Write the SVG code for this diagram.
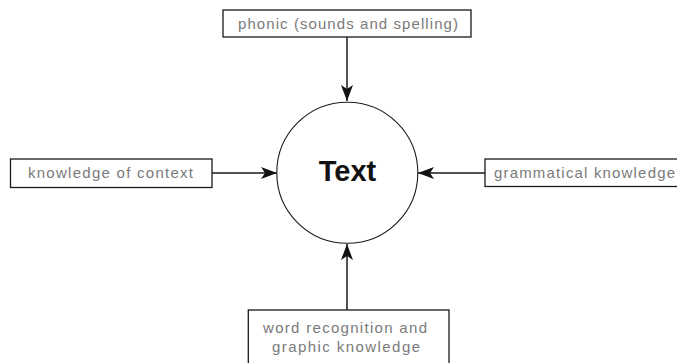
<svg xmlns="http://www.w3.org/2000/svg" width="677" height="363" viewBox="0 0 677 363">
  <style>
    .box { fill: #ffffff; stroke: #1a1a1a; stroke-width: 1.3; }
    .lbl { font-family: "Liberation Sans", Arial, sans-serif; font-size: 15px; fill: #7a7a7a; }
    .conn { stroke: #1a1a1a; stroke-width: 1.5; fill: none; marker-end: url(#arrow); }
    .hub { fill: #ffffff; stroke: #1a1a1a; stroke-width: 1.1; }
    .hubtxt { font-family: "Liberation Sans", Arial, sans-serif; font-size: 29px; font-weight: bold; fill: #111111; }
  </style>
  <defs>
    <marker id="arrow" markerUnits="userSpaceOnUse" markerWidth="17" markerHeight="13" refX="16" refY="6.5" orient="auto">
      <path d="M0,0.5 L16,6.5 L0,12.5 L4,6.5 Z" fill="#111111"/>
    </marker>
  </defs>
  <rect width="677" height="363" fill="#ffffff"/>
  <g id="connectors">
    <line class="conn" x1="347" y1="37" x2="347" y2="101"/>
    <line class="conn" x1="212" y1="173" x2="277" y2="173"/>
    <line class="conn" x1="485" y1="173" x2="418" y2="173"/>
    <line class="conn" x1="347" y1="310" x2="347" y2="244"/>
  </g>
  <g id="text-node">
    <circle class="hub" cx="347.3" cy="172.7" r="70.5"/>
    <text class="hubtxt" x="347.5" y="181" text-anchor="middle">Text</text>
  </g>
  <g id="phonic">
    <rect class="box" x="223" y="10" width="248" height="27"/>
    <text class="lbl" x="238" y="28.5" textLength="220" lengthAdjust="spacing">phonic (sounds and spelling)</text>
  </g>
  <g id="context">
    <rect class="box" x="10.5" y="159" width="201.5" height="28.5"/>
    <text class="lbl" x="28" y="178" textLength="165" lengthAdjust="spacing">knowledge of context</text>
  </g>
  <g id="grammatical">
    <rect class="box" x="485" y="159" width="215" height="27.5"/>
    <text class="lbl" x="494" y="178" textLength="181" lengthAdjust="spacing">grammatical knowledge</text>
  </g>
  <g id="word-recognition">
    <rect class="box" x="248.3" y="310" width="200.7" height="60"/>
    <text class="lbl" x="263" y="332.5" textLength="164" lengthAdjust="spacing">word recognition and</text>
    <text class="lbl" x="272" y="352" textLength="148" lengthAdjust="spacing">graphic knowledge</text>
  </g>
</svg>
